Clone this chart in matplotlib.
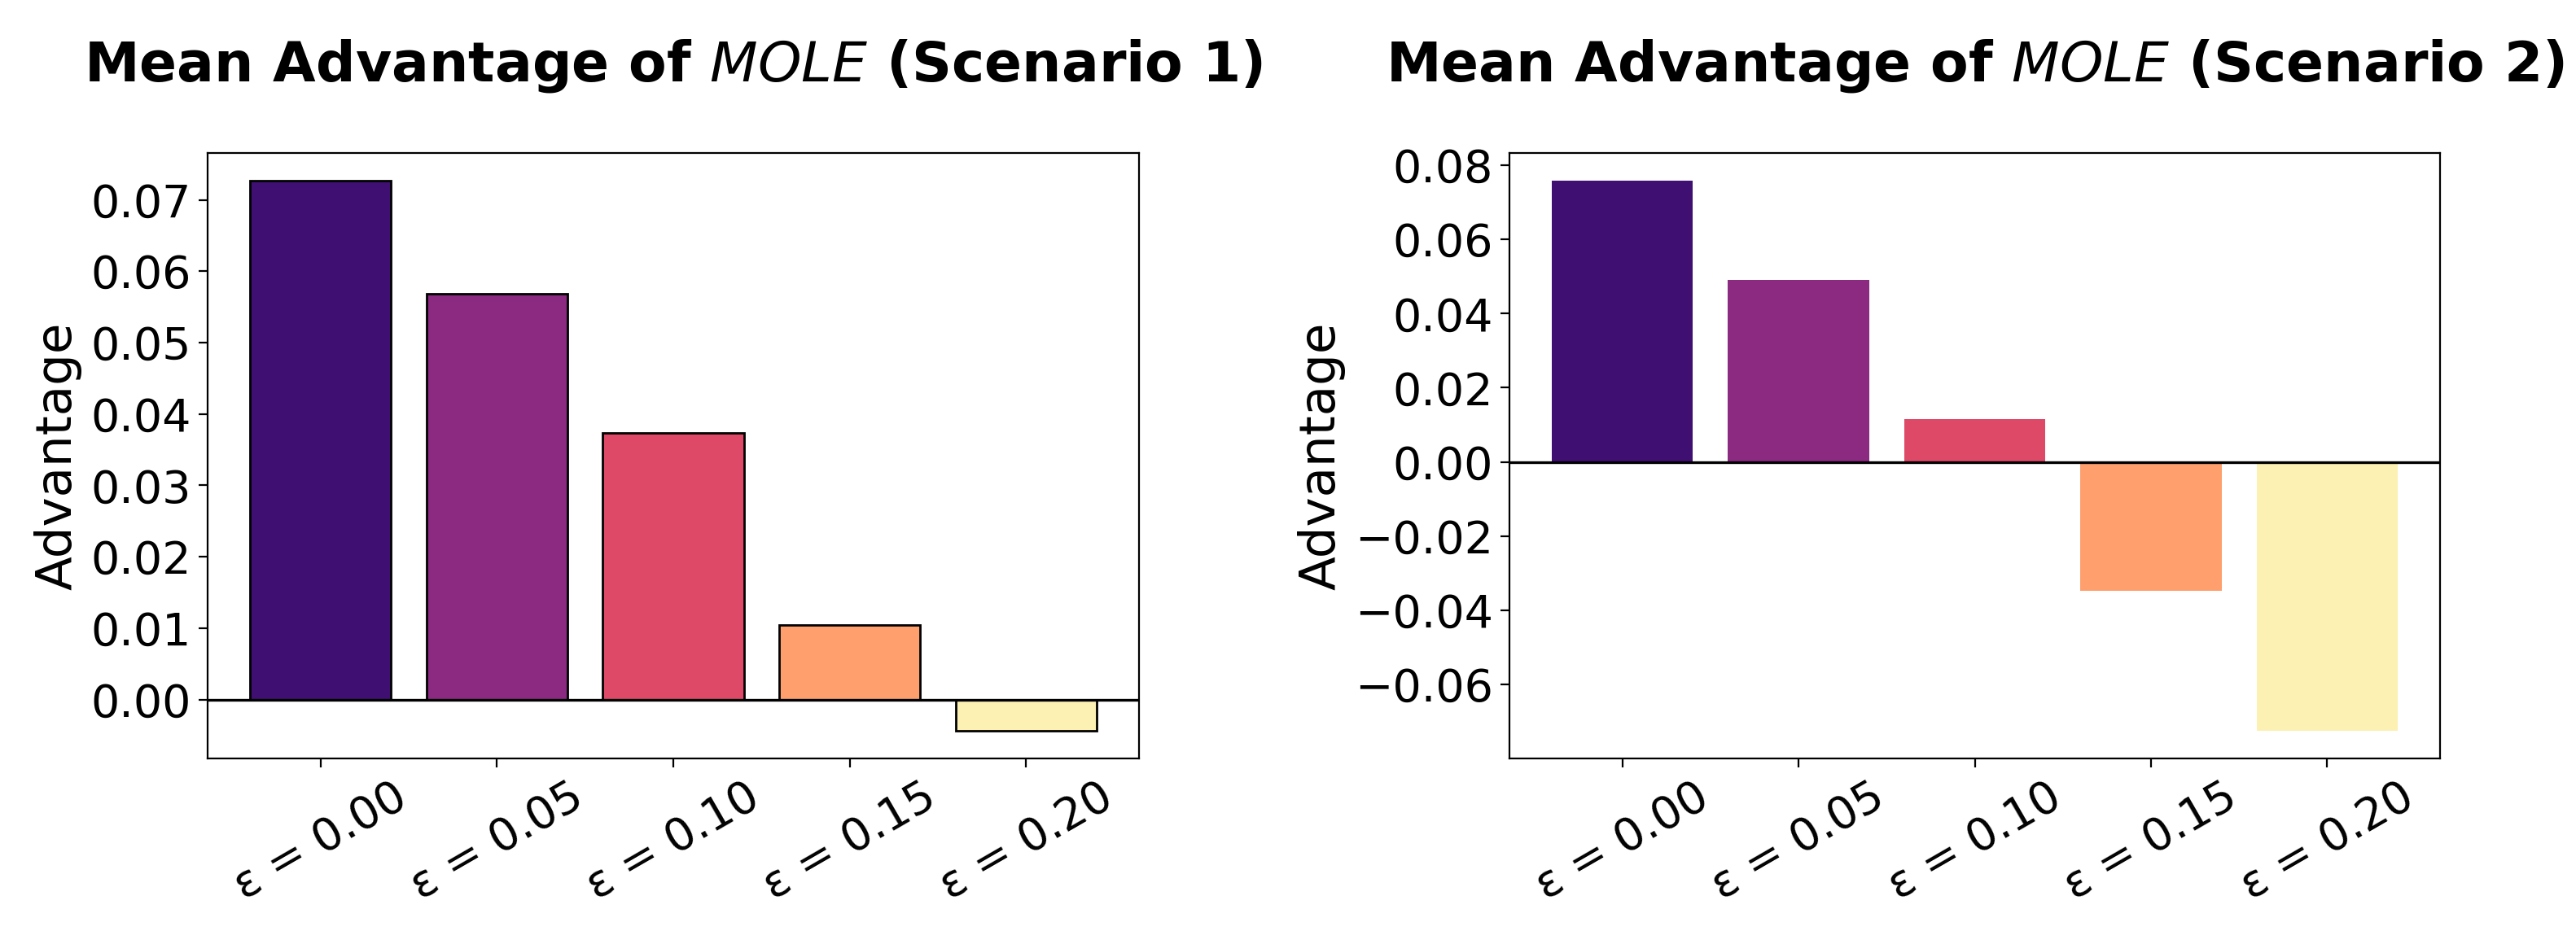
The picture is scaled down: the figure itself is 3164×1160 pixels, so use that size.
import matplotlib
matplotlib.use("Agg")
import matplotlib.pyplot as plt
import numpy as np

categories = ["ε = 0.00", "ε = 0.05", "ε = 0.10", "ε = 0.15", "ε = 0.20"]
scenario1 = [0.0727, 0.0568, 0.0373, 0.0104, -0.0044]
scenario2 = [0.0759, 0.0490, 0.0115, -0.0349, -0.0726]
bar_colors = [matplotlib.cm.magma(v) for v in [0.21, 0.4, 0.6, 0.8, 0.97]]

DPI = 200
fig = plt.figure(figsize=(3164 / DPI, 1160 / DPI), dpi=DPI)

W, H = 3164, 1160
def box(x0, x1, y0, y1):
    return [x0 / W, 1 - y1 / H, (x1 - x0) / W, (y1 - y0) / H]

ax1 = fig.add_axes(box(255, 1399, 188, 932))
ax2 = fig.add_axes(box(1854, 2997, 188, 932))

x = np.arange(len(categories))

ax1.bar(x, scenario1, color=bar_colors, edgecolor="black", linewidth=1.0)
ax2.bar(x, scenario2, color=bar_colors)

for ax, n in [(ax1, 1), (ax2, 2)]:
    ax.axhline(0, color="black", linewidth=1.2)
    ax.set_xticks(x)
    ax.set_xticklabels(categories, rotation=30, ha="center", fontsize=20)
    ax.tick_params(axis="y", labelsize=20, length=3.8, width=0.8)
    ax.tick_params(axis="x", length=3.8, width=0.8)
    ax.set_ylabel("Advantage", fontsize=22)
    ax.set_title(r"Mean Advantage of $\mathit{MOLE}$ (Scenario %d)" % n,
                 fontsize=24.5, fontweight="bold", pad=32)

ax1.set_yticks([0.00, 0.01, 0.02, 0.03, 0.04, 0.05, 0.06, 0.07])
ax2.set_yticks([-0.06, -0.04, -0.02, 0.00, 0.02, 0.04, 0.06, 0.08])

fig.savefig("out.png", dpi=DPI)
